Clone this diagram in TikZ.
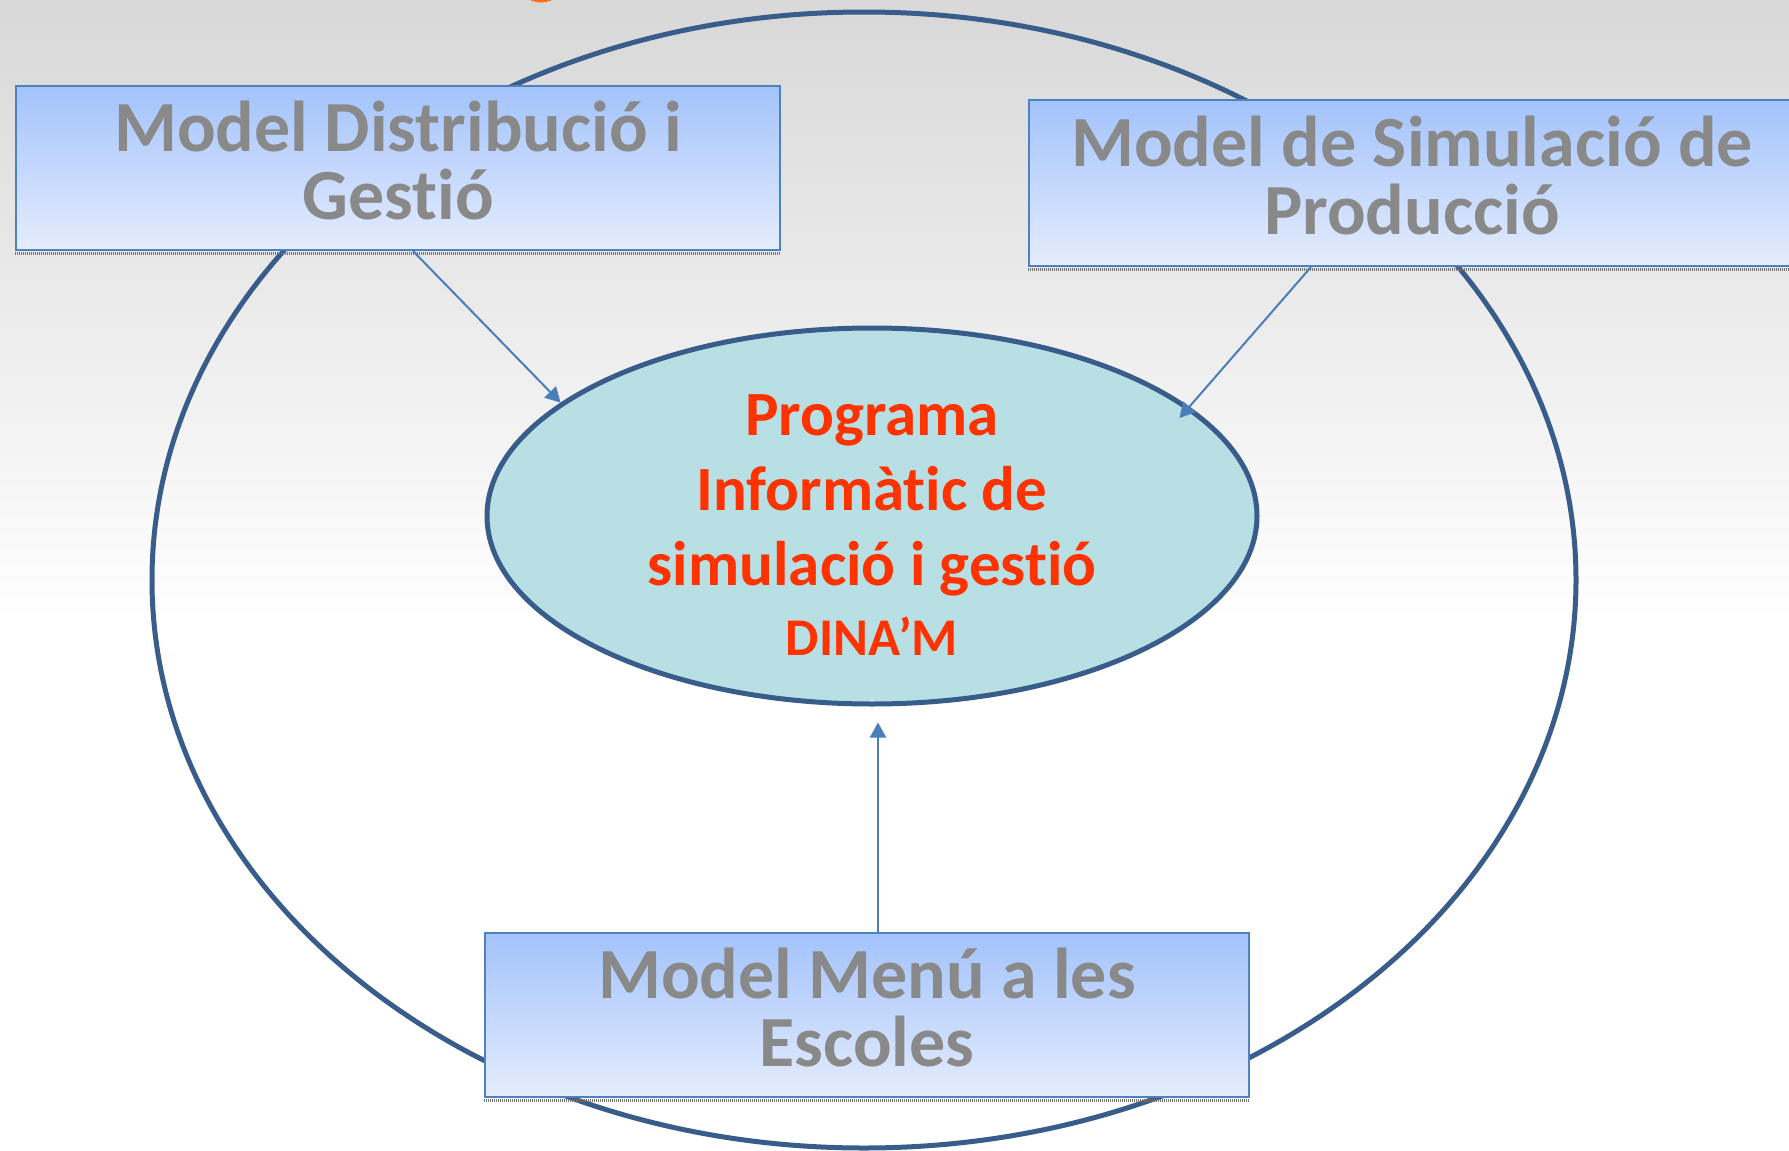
\documentclass[tikz,border=0pt]{standalone}
\usepackage{fontspec}
\setmainfont{Carlito}[Ligatures=NoCommon]
\usetikzlibrary{calc,shapes.geometric,arrows.meta}
\definecolor{bgtop}{HTML}{D8D8D8}
\definecolor{ringblue}{HTML}{385D8A}
\definecolor{innerfill}{HTML}{B8E0E4}
\definecolor{boxborder}{HTML}{4F81BD}
\definecolor{boxtop}{HTML}{A3C3FC}
\definecolor{boxbot}{HTML}{E5EDFD}
\definecolor{arrowblue}{HTML}{4A7EBB}
\definecolor{graytext}{HTML}{898989}
\definecolor{redtext}{HTML}{FF3300}
\definecolor{orangefrag}{HTML}{F96E16}
\begin{document}
\begin{tikzpicture}[x=1pt,y=-1pt,
  modelbox/.style={rectangle, draw=boxborder, line width=2pt, top color=boxtop, bottom color=boxbot, inner sep=0pt},
  boxtext/.style={align=center, text=graytext, font=\bfseries\fontsize{72}{68}\selectfont, inner sep=0pt},
  centertext/.style={align=center, text=redtext, font=\bfseries\fontsize{63}{75}\selectfont, inner sep=0pt},
  smalltext/.style={text=redtext, font=\bfseries\fontsize{53}{60}\selectfont, inner sep=0pt},
  shadowstrip/.style={line width=3pt, draw=black!55, dash pattern=on 1pt off 1pt},
  arr/.style={draw=arrowblue, line width=2pt, -{Triangle[length=15pt,width=16pt]}},
  ring/.style={ellipse, draw=ringblue, line width=5pt, inner sep=0pt}
]
\useasboundingbox (0,0) rectangle (1789,1151);
\clip (0,0) rectangle (1789,1151);
% background
\shade[top color=bgtop, bottom color=white] (0,0) rectangle (1789,620);
\fill[white] (0,620) rectangle (1789,1151);
\fill[orangefrag] (541,-23) circle (25.5);
% outer ring
\node[ring, minimum width=1424pt, minimum height=1136pt] (outer) at (864,580) {};
% boxes
\node[modelbox, minimum width=764pt, minimum height=164pt] (box1) at (398,168) {};
\node[modelbox, minimum width=766pt, minimum height=166pt] (box2) at (1412,183) {};
\node[modelbox, minimum width=764pt, minimum height=164pt] (box3) at (867,1015) {};
\draw[shadowstrip] ($(box1.south west)+(0,2.5)$) -- ($(box1.south east)+(0,2.5)$);
\draw[shadowstrip] ($(box2.south west)+(0,2.5)$) -- ($(box2.south east)+(0,2.5)$);
\draw[shadowstrip] ($(box3.south west)+(0,2.5)$) -- ($(box3.south east)+(0,2.5)$);
\node[boxtext, anchor=base] (t1) at (398,219) {Model Distribució i\\Gestió};
\node[boxtext, anchor=base] (t2) at (1412,234) {Model de Simulació de\\Producció};
\node[boxtext, anchor=base] (t3) at (867,1066) {Model Menú a les\\Escoles};
% center ellipse
\node[ring, fill=innerfill, minimum width=770pt, minimum height=376pt] (inner) at (872,516) {};
\node[centertext, anchor=base] (ct) at (872,585) {Programa\\Informàtic de\\simulació i gestió};
\node[smalltext, anchor=base] (dn) at (872,655) {DINA’M};
% arrows
\draw[arr] ($(box1.south)+(15,0)$) -- (inner.160.3);
\draw[arr, shorten >=-15pt] ($(box2.south)+(-101,0)$) -- (inner.19.5);
\draw[arr] ($(box3.north)+(11,0)$) -- ($(inner.south)+(6,16)$);
\end{tikzpicture}
\end{document}
